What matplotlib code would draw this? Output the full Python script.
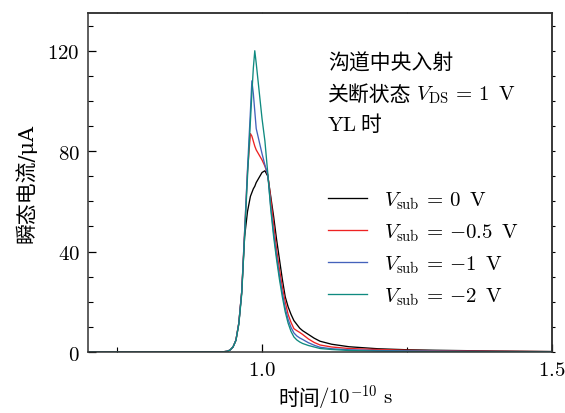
import matplotlib
matplotlib.use("Agg")
import matplotlib as mpl
import matplotlib.pyplot as plt
from matplotlib.ticker import MultipleLocator, FixedLocator, FixedFormatter

mpl.rcParams.update({
    "font.family": ["DejaVu Serif", "Noto Sans CJK SC"],
    "mathtext.fontset": "cm",
    "font.size": 15,
    "axes.linewidth": 1.1,
    "axes.edgecolor": "#333333",
    "xtick.direction": "in",
    "ytick.direction": "in",
    "xtick.major.size": 5.8,
    "ytick.major.size": 5.8,
    "xtick.minor.size": 3.6,
    "ytick.minor.size": 3.6,
    "xtick.major.width": 0.9,
    "ytick.major.width": 0.9,
    "xtick.minor.width": 0.8,
    "ytick.minor.width": 0.8,
})

# time axis, 1e-10 s
t = [0.70, 0.90, 0.93, 0.94, 0.945, 0.95, 0.955, 0.96, 0.965, 0.97, 0.975,
     0.98, 0.9825, 0.985, 0.9875, 0.99, 0.995, 1.0, 1.005, 1.01, 1.015,
     1.02, 1.025, 1.03, 1.035, 1.04, 1.045, 1.05, 1.055, 1.06, 1.065,
     1.07, 1.08, 1.09, 1.1, 1.12, 1.15, 1.2, 1.25, 1.3, 1.4, 1.5]

# transient current, uA
i_0v = [0, 0, 0, 0.3, 0.8, 2.0, 4.7, 11.5, 24, 46, 56,
        62, 63.5, 65, 66, 67.5, 69.5, 71.5, 72.2, 70, 62,
        54, 45, 37, 29, 22, 18, 15, 12.5, 11, 9.5,
        8.5, 7.0, 5.5, 4.3, 3.1, 2.1, 1.3, 0.9, 0.7, 0.4, 0.2]
i_05v = [0, 0, 0, 0.3, 0.8, 2.0, 4.7, 11.5, 24, 48, 72,
         87, 86, 84, 82, 80.5, 78.5, 76.5, 74, 70.5, 61,
         51, 41, 33, 26, 20, 15, 11.8, 9.3, 8.5, 7.8,
         7.0, 5.2, 3.8, 2.8, 2.0, 1.4, 1.0, 0.7, 0.5, 0.3, 0.15]
i_1v = [0, 0, 0, 0.3, 0.8, 2.0, 4.7, 11.5, 24, 48, 73,
        96, 108, 103, 96, 89, 84, 79, 74.5, 70.5, 58,
        47.5, 38.5, 30.5, 23.5, 17.5, 13, 9.8, 7.6, 6.4, 5.6,
        5.0, 3.7, 2.7, 1.9, 1.3, 0.9, 0.6, 0.45, 0.35, 0.2, 0.1]
i_2v = [0, 0, 0, 0.3, 0.8, 2.0, 4.6, 11, 23, 46, 70,
        92, 103, 113, 120, 115, 104, 93, 84, 71, 57,
        46, 37, 29, 22, 16, 11.5, 8.2, 6.0, 4.8, 4.0,
        3.4, 2.6, 2.0, 1.4, 1.0, 0.6, 0.35, 0.25, 0.2, 0.1, 0.05]

series = [
    (i_0v, "#000000", r"$V_{\mathrm{sub}}\,=\,{0}\;\;\mathrm{V}$"),
    (i_05v, "#ee2222", r"$V_{\mathrm{sub}}\,=\,{-0.5}\;\;\mathrm{V}$"),
    (i_1v, "#4462bb", r"$V_{\mathrm{sub}}\,=\,{-1}\;\;\mathrm{V}$"),
    (i_2v, "#0f8a80", r"$V_{\mathrm{sub}}\,=\,{-2}\;\;\mathrm{V}$"),
]

x_ticks = [1.0, 1.5]
y_ticks = [0, 40, 80, 120]

fig = plt.figure(figsize=(5.65, 4.14), dpi=100)
ax = fig.add_axes([0.1558, 0.1473, 0.8212, 0.8187])

for y, c, lbl in series:
    ax.plot(t, y, color=c, lw=0.95, label=lbl)

ax.set_xlim(0.7, 1.5)
ax.set_ylim(0, 135)
ax.xaxis.set_major_locator(FixedLocator(x_ticks))
ax.xaxis.set_major_formatter(FixedFormatter([f"${v:.1f}$" for v in x_ticks]))
ax.xaxis.set_minor_locator(MultipleLocator(0.25))
ax.yaxis.set_major_locator(FixedLocator(y_ticks))
ax.yaxis.set_major_formatter(FixedFormatter([f"${v}$" for v in y_ticks]))
ax.yaxis.set_minor_locator(MultipleLocator(10))
ax.tick_params(which="both", labelsize=15, pad=6)

# right / top: short outward ticks, no labels
ry = ax.secondary_yaxis("right")
ry.yaxis.set_major_locator(MultipleLocator(10))
ry.tick_params(which="both", direction="out", length=2, width=0.8,
               labelright=False)
tx = ax.secondary_xaxis("top")
tx.xaxis.set_major_locator(MultipleLocator(0.25))
tx.tick_params(which="both", direction="out", length=1, width=0.8,
               labeltop=False)

# x label: Chinese part + math part side by side
fig.text(0.492, 0.022, "时间", fontsize=15, ha="left", va="baseline")
fig.text(0.562, 0.022, r"$/10^{-10}\ \mathrm{s}$", fontsize=15,
         ha="left", va="baseline")
ax.set_ylabel("瞬态电流/μA", fontsize=15, labelpad=8)

ax.text(0.517, 0.855, "沟道中央入射", transform=ax.transAxes,
        fontsize=15, va="center", ha="left")
ax.text(0.517, 0.76, "关断状态", transform=ax.transAxes,
        fontsize=15, va="center", ha="left")
ax.text(0.707, 0.762, r"$V_{\mathrm{DS}}\,=\,{1}\;\;\mathrm{V}$",
        transform=ax.transAxes, fontsize=15, va="center", ha="left")
ax.text(0.514, 0.672, r"$\mathrm{YL}$", transform=ax.transAxes,
        fontsize=15, va="center", ha="left")
ax.text(0.586, 0.672, "时", transform=ax.transAxes,
        fontsize=15, va="center", ha="left")

ax.legend(loc="upper left", bbox_to_anchor=(0.517, 0.48), frameon=False,
          fontsize=15, handlelength=1.9, handletextpad=0.8,
          labelspacing=0.5, borderpad=0, borderaxespad=0)

fig.savefig("out.png", dpi=100)
